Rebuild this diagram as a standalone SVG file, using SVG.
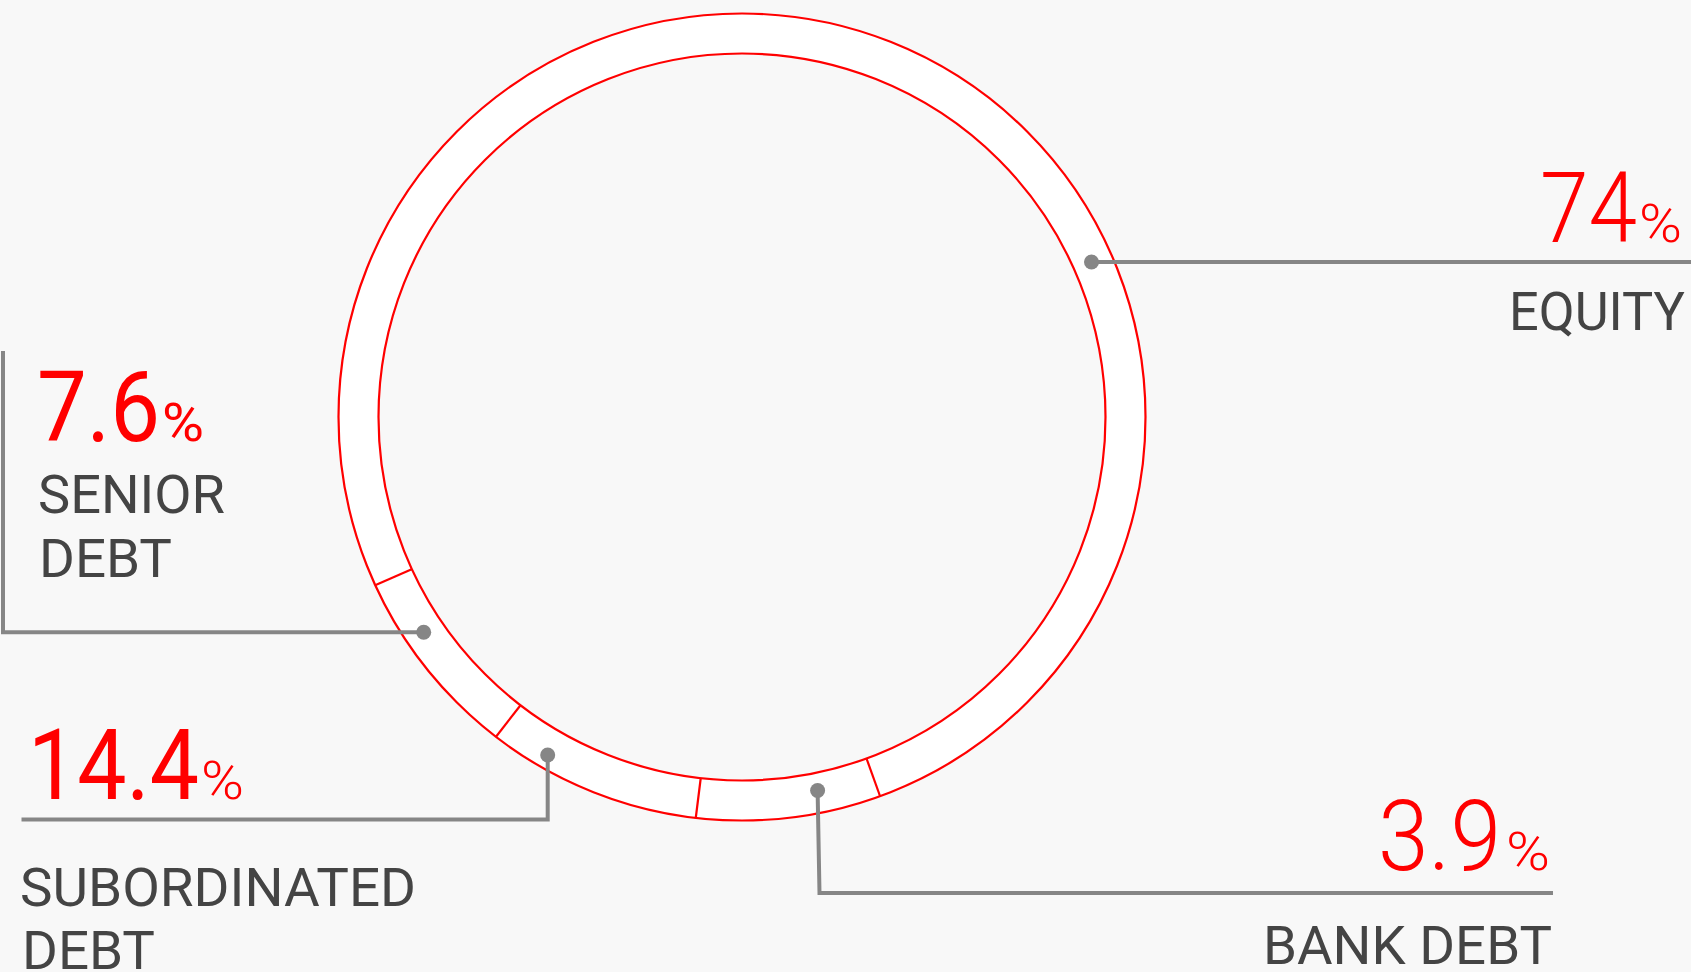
<svg xmlns="http://www.w3.org/2000/svg" width="1691" height="972" viewBox="0 0 1691 972">
<style>
.num{font-family:Roboto,"Liberation Sans",sans-serif;font-size:98px;fill:#ff0000;font-weight:300}
.pct{font-family:Roboto,"Liberation Sans",sans-serif;font-size:54px;fill:#ff0000;font-weight:300}
.reg{font-weight:400}
.lbl{font-family:Roboto,"Liberation Sans",sans-serif;font-size:53px;fill:#444444;font-weight:400}
.ringline{fill:none;stroke:#ff0000;stroke-width:2.2}
.conn{fill:none;stroke:#868686;stroke-width:4}
.dot{fill:#868686}
</style>
<rect x="0" y="0" width="1691" height="972" fill="#f8f8f8"/>
<g id="ring">
  <circle cx="742" cy="417" r="383.5" fill="none" stroke="#ffffff" stroke-width="40"/>
  <circle class="ringline" cx="742" cy="417" r="403.5"/>
  <circle class="ringline" cx="742" cy="417" r="363.5"/>
  <line class="ringline" x1="375.7" y1="585" x2="411.7" y2="569.3"/>
  <line class="ringline" x1="496" y1="736.7" x2="520.7" y2="705"/>
  <line class="ringline" x1="695.7" y1="818.3" x2="700.7" y2="778.3"/>
  <line class="ringline" x1="880" y1="796" x2="866.7" y2="759"/>
</g>
<g id="connectors">
  <line class="conn" x1="1091.5" y1="262" x2="1691" y2="262"/>
  <circle class="dot" cx="1091.5" cy="262" r="7.5"/>
  <polyline class="conn" points="3,351 3,632.3 423.7,632.3"/>
  <circle class="dot" cx="423.7" cy="632.3" r="7.5"/>
  <polyline class="conn" points="21.5,819.6 547.7,819.6 547.7,755"/>
  <circle class="dot" cx="547.7" cy="755" r="7.5"/>
  <polyline class="conn" points="1553,893 819.5,893 817.6,790.5"/>
  <circle class="dot" cx="817.6" cy="790.5" r="7.5"/>
</g>
<g id="equity">
  <text class="num" x="1540" y="241.6" textLength="97" lengthAdjust="spacingAndGlyphs">74</text>
  <text class="pct" x="1639" y="241.6" textLength="43" lengthAdjust="spacingAndGlyphs">%</text>
  <text class="lbl" x="1509" y="330" textLength="176" lengthAdjust="spacingAndGlyphs">EQUITY</text>
</g>
<g id="senior-debt">
  <text class="num reg" x="37" y="441" textLength="123" lengthAdjust="spacingAndGlyphs">7.6</text>
  <text class="pct reg" x="162" y="441" textLength="42" lengthAdjust="spacingAndGlyphs">%</text>
  <text class="lbl" x="38" y="513" textLength="187" lengthAdjust="spacingAndGlyphs">SENIOR</text>
  <text class="lbl" x="39" y="577" textLength="133" lengthAdjust="spacingAndGlyphs">DEBT</text>
</g>
<g id="subordinated-debt">
  <text class="num reg" x="28" y="798.5" textLength="171" lengthAdjust="spacingAndGlyphs">14.4</text>
  <text class="pct" x="201" y="798.5" textLength="43" lengthAdjust="spacingAndGlyphs">%</text>
  <text class="lbl" x="20" y="906" textLength="396" lengthAdjust="spacingAndGlyphs">SUBORDINATED</text>
  <text class="lbl" x="22" y="969" textLength="133" lengthAdjust="spacingAndGlyphs">DEBT</text>
</g>
<g id="bank-debt">
  <text class="num" x="1378" y="870" textLength="123" lengthAdjust="spacingAndGlyphs">3.9</text>
  <text class="pct" x="1506" y="870" textLength="44" lengthAdjust="spacingAndGlyphs">%</text>
  <text class="lbl" x="1263" y="963.5" textLength="289" lengthAdjust="spacingAndGlyphs">BANK DEBT</text>
</g>
</svg>
